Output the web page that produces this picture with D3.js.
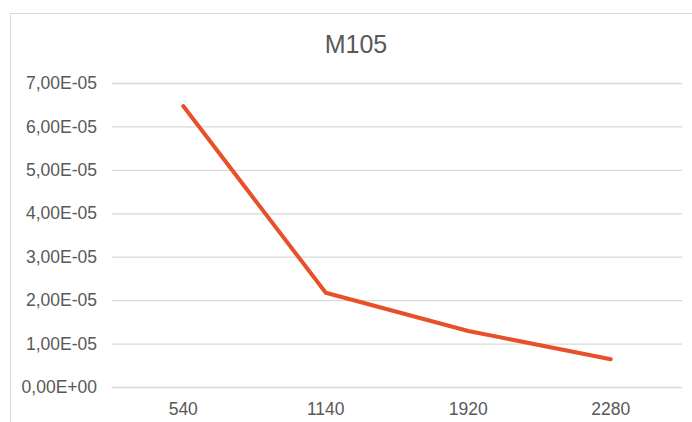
<!DOCTYPE html>
<html>
<head>
<meta charset="utf-8">
<script src="https://cdn.jsdelivr.net/npm/d3@7"></script>
<style>
  html, body { margin: 0; padding: 0; background: #ffffff; }
  svg { display: block; }
</style>
</head>
<body>
<svg id="chart" width="692" height="422"></svg>
<script>
// Chart data
const title = "M105";
const categories = ["540", "1140", "1920", "2280"];
const values = [6.47e-5, 2.17e-5, 1.29e-5, 0.64e-5];
const yTickValues = [0, 1e-5, 2e-5, 3e-5, 4e-5, 5e-5, 6e-5, 7e-5];

// Scientific notation with a decimal comma, e.g. 7,00E-05
function sciComma(v) {
  const [m, e] = v.toExponential(2).split("e");
  const exp = parseInt(e, 10);
  const sign = exp < 0 ? "-" : "+";
  return m.replace(".", ",") + "E" + sign + String(Math.abs(exp)).padStart(2, "0");
}

const svg = d3.select("#chart");
const plot = { left: 112, right: 682, top: 83, bottom: 387 };
const grey = "#595959";
const fontFamily = "'Liberation Sans', Arial, sans-serif";

// Chart area frame
svg.append("rect")
  .attr("x", 10.5).attr("y", 13.5)
  .attr("width", 720).attr("height", 500)
  .attr("fill", "#ffffff")
  .attr("stroke", "#d9d9d9")
  .attr("stroke-width", 1);

// Title
svg.append("text")
  .attr("x", 356).attr("y", 53)
  .attr("text-anchor", "middle")
  .attr("font-family", fontFamily)
  .attr("font-size", 25)
  .attr("fill", grey)
  .text(title);

const x = d3.scaleBand()
  .domain(categories)
  .range([plot.left, plot.right]);

const y = d3.scaleLinear()
  .domain([0, 7e-5])
  .range([plot.bottom, plot.top]);

// Horizontal gridlines + y tick labels
const yAxis = svg.append("g")
  .attr("transform", `translate(${plot.left},0)`)
  .call(d3.axisLeft(y)
    .tickValues(yTickValues)
    .tickFormat(sciComma)
    .tickSizeInner(-(plot.right - plot.left))
    .tickSizeOuter(0)
    .tickPadding(15));
yAxis.select(".domain").remove();
yAxis.selectAll(".tick line")
  .attr("stroke", "#d9d9d9")
  .attr("stroke-width", 1.3);
yAxis.selectAll(".tick text")
  .attr("font-family", fontFamily)
  .attr("font-size", 17.5)
  .attr("fill", grey);

// Category labels
const xAxis = svg.append("g")
  .attr("transform", `translate(0,${plot.bottom})`)
  .call(d3.axisBottom(x).tickSize(0).tickPadding(16));
xAxis.select(".domain").remove();
xAxis.selectAll(".tick text")
  .attr("font-family", fontFamily)
  .attr("font-size", 17.5)
  .attr("fill", grey);

// Series line
const line = d3.line()
  .x((d, i) => x(categories[i]) + x.bandwidth() / 2)
  .y(d => y(d));

svg.append("path")
  .datum(values)
  .attr("d", line)
  .attr("fill", "none")
  .attr("stroke", "#e8502a")
  .attr("stroke-width", 4)
  .attr("stroke-linecap", "round")
  .attr("stroke-linejoin", "round");
</script>
</body>
</html>
